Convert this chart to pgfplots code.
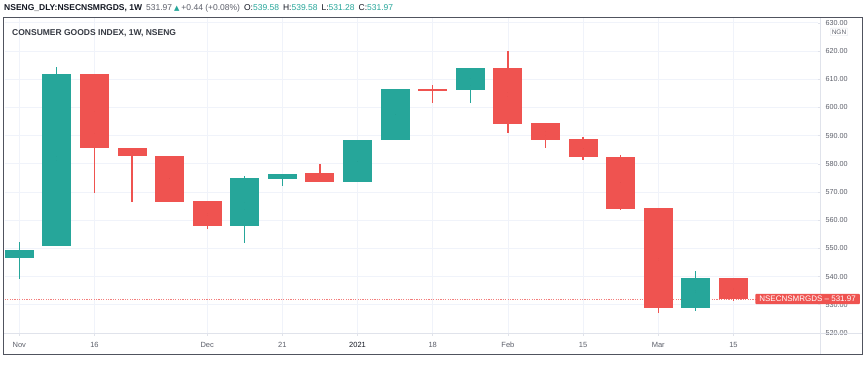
\documentclass[border=0pt]{standalone}
\usepackage{pgfplots}
\pgfplotsset{compat=1.18}
\usepackage{pgfplotstable}
\usepackage{fontspec}
\setmainfont{Liberation Sans}
\newfontfamily\symfont{DejaVu Sans}
\definecolor{up}{HTML}{26A69A}
\definecolor{dn}{HTML}{EF5350}
\definecolor{gridc}{HTML}{F0F3FA}
\definecolor{sepc}{HTML}{E0E3EB}
\definecolor{txt}{HTML}{131722}
\definecolor{lbl}{HTML}{5D606B}
\definecolor{framec}{HTML}{50535E}

\pgfplotstableread{
x o h l c
0 546.5 552.4 539.0 549.4
1 550.9 614.4 550.9 611.7
6 557.8 575.7 551.8 575.0
7 574.7 576.5 572.2 576.5
9 573.4 588.4 573.4 588.4
10 588.3 606.6 588.3 606.6
12 606.3 613.9 601.5 613.9
18 528.8 542.1 527.9 539.6
}\upc

\pgfplotstableread{
x o h l c
2 611.7 611.9 569.8 585.5
3 585.6 585.6 566.6 582.7
4 582.8 582.8 566.5 566.5
5 566.7 566.7 556.8 557.8
8 576.7 580.0 573.4 573.4
11 606.4 607.9 601.5 605.9
13 613.9 620.1 590.8 594.0
14 594.4 594.4 585.5 588.4
15 588.7 589.6 581.3 582.4
16 582.5 583.1 563.6 564.1
17 564.2 564.2 527.2 528.8
19 539.58 539.58 531.28 531.97
}\dnc

\pgfplotsset{candle/.style={only marks, mark=none, mark size=0pt, mark options={draw=none,fill=none}, forget plot,
  error bars/.cd, y dir=both, y explicit, error mark=none}}

\begin{document}
\begin{tikzpicture}
\useasboundingbox (0,0) rectangle (865pt,367pt);
\fill[white] (0,0) rectangle (865pt,367pt);
\begin{axis}[
  at={(5pt,34pt)}, anchor=south west,
  scale only axis, width=813pt, height=316pt,
  xmin=-0.38, xmax=21.25, ymin=520, ymax=632.06,
  axis line style={draw=none},
  xmajorgrids, ymajorgrids,
  grid style={color=gridc, line width=0.7pt},
  xtick={0,2,5,7,9,11,13,15,17,19},
  xticklabels={Nov,16,Dec,21,{\color{txt}2021},18,Feb,15,Mar,15},
  ytick={520,530,...,630},
  yticklabel pos=right, ytick pos=right, xtick pos=bottom,
  tick align=outside, major tick length=3pt,
  tick style={color=sepc, line width=0.6pt},
  /pgf/number format/.cd, fixed, fixed zerofill, precision=2, assume math mode=true,
  /pgfplots/.cd,
  yticklabel style={font=\fontsize{7.2}{8}\selectfont, color=lbl, xshift=1pt},
  xticklabel style={font=\fontsize{7.5}{8}\selectfont, color=lbl, yshift=-2.5pt},
  clip=false,
]
% last price line (horizontal error bar spanning the plot)
\addplot[only marks, mark=none, mark size=0pt, mark options={draw=none,fill=none}, forget plot,
  error bars/.cd, x dir=both, x explicit, error mark=none,
  error bar style={line width=0.8pt, color=dn!75, dash pattern=on 1.2pt off 1.2pt}]
  coordinates {(10.435,531.97) +- (10.815,0)};
% wicks
\addplot[candle, error bar style={line width=1.2pt, color=up}]
  table[x=x, y expr={(\thisrow{h}+\thisrow{l})/2}, y error expr={(\thisrow{h}-\thisrow{l})/2}] {\upc};
\addplot[candle, error bar style={line width=1.2pt, color=dn}]
  table[x=x, y expr={(\thisrow{h}+\thisrow{l})/2}, y error expr={(\thisrow{h}-\thisrow{l})/2}] {\dnc};
% bodies
\addplot[candle, error bar style={line width=29pt, color=up}]
  table[x=x, y expr={(\thisrow{o}+\thisrow{c})/2}, y error expr={abs(\thisrow{c}-\thisrow{o})/2}] {\upc};
\addplot[candle, error bar style={line width=29pt, color=dn}]
  table[x=x, y expr={(\thisrow{o}+\thisrow{c})/2}, y error expr={abs(\thisrow{c}-\thisrow{o})/2}] {\dnc};
\end{axis}
\begin{scope}[x=1pt,y=-1pt,shift={(0pt,367pt)}]
\draw[sepc, line width=0.7pt] (820,17)--(820,354);
\draw[sepc, line width=0.7pt] (3,333)--(862,333);
\draw[framec, line width=0.9pt] (3,17) rectangle (862,354);
\node[anchor=west, inner sep=0pt, font=\fontsize{8.5}{10}\selectfont, text=txt] at (4,8)
 {\textbf{NSENG\_DLY:NSECNSMRGDS, 1W}\hspace{4pt}{\color{lbl}531.97}\hspace{2pt}{\color{up}\symfont\fontsize{7}{8}\selectfont▲}\hspace{2pt}{\color{lbl}+0.44 (+0.08\%)}\hspace{4pt}O:{\color{up}539.58}\hspace{4pt}H:{\color{up}539.58}\hspace{4pt}L:{\color{up}531.28}\hspace{4pt}C:{\color{up}531.97}};
\node[anchor=west, inner sep=0pt, font=\fontsize{8.5}{10}\selectfont\bfseries, text=txt!85] at (12,33) {CONSUMER GOODS INDEX, 1W, NSENG};
\node[draw=sepc, fill=white, rounded corners=1pt, font=\fontsize{6.5}{7}\selectfont, text=lbl, inner sep=1.5pt] at (839,32) {NGN};
\node[fill=dn, text=white, anchor=east, inner xsep=4pt, inner ysep=2.2pt, rounded corners=0.8pt, font=\fontsize{8}{9}\selectfont] at (860,299) {NSECNSMRGDS -- 531.97};
\end{scope}
\end{tikzpicture}
\end{document}
